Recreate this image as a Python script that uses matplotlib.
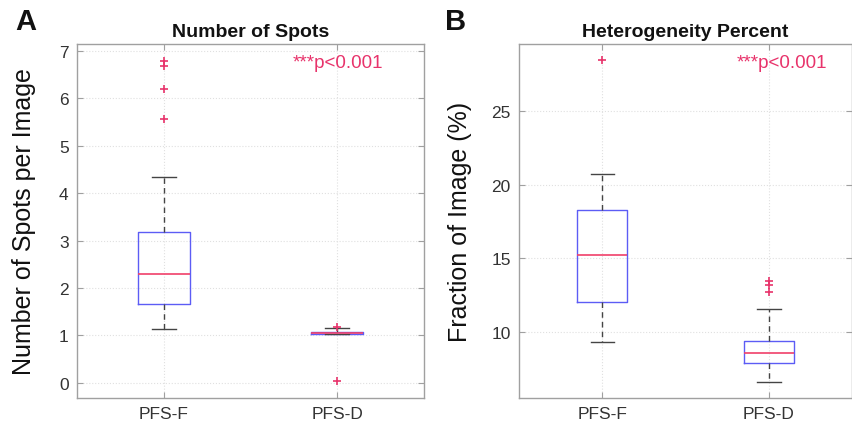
import matplotlib
matplotlib.use("Agg")
import matplotlib.pyplot as plt

plt.rcParams['font.family'] = ['Liberation Sans', 'DejaVu Sans']

groups = ["PFS-F", "PFS-D"]

# panel A: number of spots per image (whisker low, q1, median, q3, whisker high)
spots_stats = [
    [1.13, 1.66, 2.29, 3.19, 4.35],
    [1.02, 1.02, 1.05, 1.08, 1.15],
]
spots_fliers = [
    [5.56, 6.19, 6.68, 6.80],
    [1.18, 0.04],
]

# panel B: heterogeneity percent
het_stats = [
    [9.28, 12.04, 15.18, 18.26, 20.75],
    [6.56, 7.85, 8.53, 9.37, 11.54],
]
het_fliers = [
    [28.44],
    [12.72, 13.17, 13.46],
]

pval_text = "***p<0.001"

BOX_C = "#5c5cf5"
MED_C = "#f0406a"
OUT_C = "#e8336b"
TXT_C = "#333333"
AX_C = "#a0a0a0"


def draw_panel(ax, stats, fliers, title, ylabel, ylim, yticks, letter,
               letter_x, pval_x, ylabel_x):
    bstats = []
    for name, s, f in zip(groups, stats, fliers):
        bstats.append(dict(label=name, whislo=s[0], q1=s[1], med=s[2],
                           q3=s[3], whishi=s[4], fliers=f))
    ax.bxp(bstats, positions=[1, 2], widths=0.3,
           boxprops=dict(color=BOX_C, lw=1.0),
           medianprops=dict(color=MED_C, lw=1.2),
           whiskerprops=dict(color="#444444", lw=1.0, ls=(0, (4, 3))),
           capprops=dict(color="#444444", lw=1.0),
           flierprops=dict(marker="+", markeredgecolor=OUT_C, markersize=6,
                           markeredgewidth=1.2, linestyle="none"),
           capwidths=0.14)
    ax.set_xlim(0.5, 2.5)
    ax.set_ylim(*ylim)
    ax.set_yticks(yticks)
    ax.grid(True, color="#e0e0e0", ls=":", lw=0.8)
    ax.set_axisbelow(True)
    for sp in ax.spines.values():
        sp.set_color(AX_C)
        sp.set_linewidth(1.0)
    ax.tick_params(direction="in", length=4, color=AX_C, labelcolor=TXT_C,
                   labelsize=12.5, top=True, right=True, pad=6)
    ax.set_title(title, fontsize=14, fontweight="bold", color="#111111", pad=6)
    ax.set_ylabel(ylabel, fontsize=18, color="#111111")
    ax.yaxis.set_label_coords(ylabel_x, 0.5)
    ax.text(pval_x, 0.948, pval_text, transform=ax.transAxes, color=OUT_C,
            fontsize=13.5, ha="left", va="center")
    ax.text(letter_x, 1.065, letter, transform=ax.transAxes, fontsize=21,
            fontweight="bold", color="#111111", ha="left", va="center")


fig = plt.figure(figsize=(8.53, 4.35), dpi=100)
axA = fig.add_axes([0.0903, 0.0828, 0.4067, 0.8138])
axB = fig.add_axes([0.6084, 0.0828, 0.3906, 0.8138])

draw_panel(axA, spots_stats, spots_fliers, "Number of Spots",
           "Number of Spots per Image", (-0.32, 7.15), range(0, 8), "A",
           -0.179, 0.622, -0.118)
draw_panel(axB, het_stats, het_fliers, "Heterogeneity Percent",
           "Fraction of Image (%)", (5.5, 29.55), [10, 15, 20, 25], "B",
           -0.222, 0.652, -0.14)

fig.savefig("out.png", dpi=100)
